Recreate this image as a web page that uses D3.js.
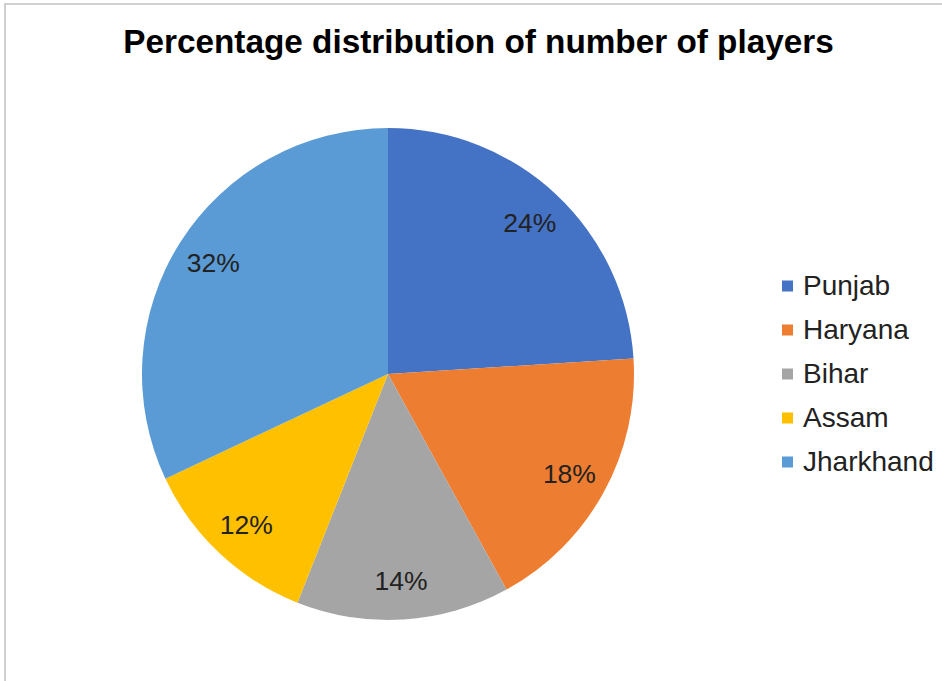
<!DOCTYPE html>
<html><head><meta charset="utf-8">
<script src="https://cdn.jsdelivr.net/npm/d3@7"></script>
<style>html,body{margin:0;padding:0;background:#fff;}svg{display:block;}</style>
</head><body>
<svg id="c" width="942" height="681"></svg>
<script>
const title = "Percentage distribution of number of players";
const categories = ["Punjab", "Haryana", "Bihar", "Assam", "Jharkhand"];
const values = [24, 18, 14, 12, 32];
const colors = ["#4472C4", "#ED7D31", "#A5A5A5", "#FFC000", "#5B9BD5"];

const svg = d3.select("#c");
const W = 942, H = 681;
svg.append("rect").attr("x", 0).attr("y", 0).attr("width", W).attr("height", H).attr("fill", "#fff");
// chart border (extends off right/bottom)
svg.append("rect").attr("x", 5).attr("y", 4).attr("width", W + 10).attr("height", H + 10)
  .attr("fill", "none").attr("stroke", "#d0d0d0").attr("stroke-width", 2);

svg.append("text").attr("x", 478.5).attr("y", 53).attr("text-anchor", "middle")
  .attr("font-family", "Liberation Sans, Arial, sans-serif").attr("font-weight", "bold")
  .attr("font-size", 33.3).attr("fill", "#000").text(title);

const cx = 388, cy = 374, R = 246;
const color = d3.scaleOrdinal().domain(categories).range(colors);
const pie = d3.pie().sort(null).value(d => d.v);
const data = categories.map((c, i) => ({c, v: values[i]}));
const arcs = pie(data);
const arc = d3.arc().innerRadius(0).outerRadius(R);
const labelArc = d3.arc().innerRadius(207).outerRadius(207);
const totalV = d3.sum(values);

const g = svg.append("g").attr("transform", `translate(${cx},${cy})`);
g.selectAll("path").data(arcs).join("path")
  .attr("d", arc).attr("fill", d => color(d.data.c));
g.selectAll("text").data(arcs).join("text")
  .attr("transform", d => `translate(${labelArc.centroid(d)})`)
  .attr("text-anchor", "middle").attr("dy", "0.35em")
  .attr("font-family", "Liberation Sans, Arial, sans-serif").attr("font-size", 26.5)
  .attr("fill", "#222")
  .text(d => Math.round(d.data.v / totalV * 100) + "%");

const leg = svg.append("g").attr("transform", "translate(782,286)");
const y = d3.scalePoint().domain(categories).range([0, 176]);
const items = leg.selectAll("g").data(categories).join("g")
  .attr("transform", d => `translate(0,${y(d)})`);
items.append("rect").attr("x", 0).attr("y", -5.5).attr("width", 11).attr("height", 11)
  .attr("fill", d => color(d));
items.append("text").attr("x", 21).attr("y", 8.5)
  .attr("font-family", "Liberation Sans, Arial, sans-serif").attr("font-size", 28)
  .attr("fill", "#222").text(d => d);
</script>
</body></html>
